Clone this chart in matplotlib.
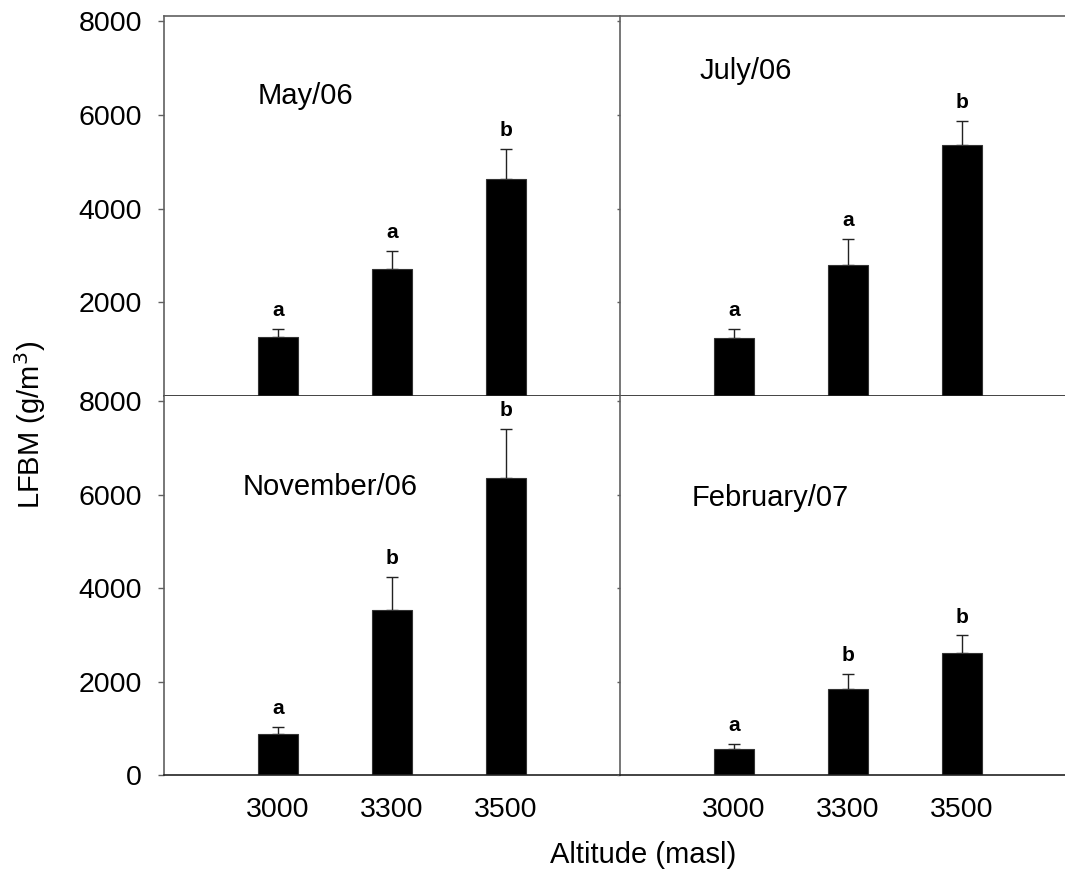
import numpy as np
import matplotlib
matplotlib.use("Agg")
import matplotlib.pyplot as plt

plt.rcParams['font.family'] = ['Liberation Sans', 'DejaVu Sans']

altitudes = ["3000", "3300", "3500"]
panels = ["May/06", "July/06", "November/06", "February/07"]

may_mean = [1250, 2710, 4630]
may_err = [180, 380, 650]
july_mean = [1240, 2790, 5360]
july_err = [200, 560, 510]
nov_mean = [880, 3520, 6350]
nov_err = [150, 720, 1055]
feb_mean = [550, 1830, 2615]
feb_err = [120, 330, 370]

may_let = ["a", "a", "b"]
july_let = ["a", "a", "b"]
nov_let = ["a", "b", "b"]
feb_let = ["a", "b", "b"]

means = [may_mean, july_mean, nov_mean, feb_mean]
errs = [may_err, july_err, nov_err, feb_err]
letters = [may_let, july_let, nov_let, feb_let]
# where the panel titles go (data coords)
title_pos = [(0.237, 6400), (0.105, 6930), (0.456, 6160), (0.316, 5925)]

W, H = 1065, 873
fig = plt.figure(figsize=(W / 100, H / 100), dpi=100)

x0, xm, x1 = 164, 620, 1065
y0, ym, y1 = 16, 396, 775
boxes = [
    (x0, y0, xm - x0, ym - y0),
    (xm, y0, x1 - xm, ym - y0),
    (x0, ym, xm - x0, y1 - ym),
    (xm, ym, x1 - xm, y1 - ym),
]
unit = (xm - x0) / 4.0
ymax = 8107
grey = "#606060"

x = np.arange(len(altitudes))
for i, (bx, by, bw, bh) in enumerate(boxes):
    ax = fig.add_axes([bx / W, (H - by - bh) / H, bw / W, bh / H])
    m = means[i]
    e = errs[i]
    ax.bar(x, m, width=0.35, color="black", edgecolor="#333333", linewidth=0.8, zorder=2)
    ax.errorbar(x, m, yerr=[np.zeros(3), e], fmt="none", ecolor="#222222",
                elinewidth=1, capsize=4, capthick=1, zorder=1)
    for xi, mi, ei, lt in zip(x, m, e, letters[i]):
        ax.text(xi, mi + ei + 190, lt, ha="center", va="bottom",
                fontsize=15, fontweight="bold")
    tx, ty = title_pos[i]
    ax.text(tx, ty, panels[i], ha="center", va="center", fontsize=21)

    ax.set_xlim(-1, -1 + bw / unit)
    ax.set_ylim(0, ymax)
    for s in ["top", "right", "left", "bottom"]:
        ax.spines[s].set_color(grey)
        ax.spines[s].set_linewidth(1.2)
    ax.spines["right"].set_visible(False)
    ax.spines["bottom"].set_color("#222222")
    if i >= 2:
        ax.spines["top"].set_visible(False)

    if i % 2 == 0:
        if i == 0:
            ax.set_yticks([2000, 4000, 6000, 8000])
        else:
            ax.set_yticks([0, 2000, 4000, 6000, 8000])
        ax.tick_params(axis="y", labelsize=20.5, length=4, color=grey, width=1, pad=12)
    else:
        ax.set_yticks([0, 2000, 4000, 6000, 8000])
        ax.set_yticklabels([])
        ax.tick_params(axis="y", length=2, color=grey, width=1)

    if i >= 2:
        ax.set_xticks(x)
        ax.set_xticklabels(altitudes)
        ax.tick_params(axis="x", labelsize=20.5, length=0, pad=16)
    else:
        ax.set_xticks([])

fig.text(643 / W, 1 - 855 / H, "Altitude (masl)", ha="center", va="center", fontsize=21)
fig.text(30 / W, 1 - 425 / H, "LFBM (g/m$^3$)", ha="center", va="center",
         rotation=90, fontsize=21)

fig.savefig("out.png", dpi=100)
